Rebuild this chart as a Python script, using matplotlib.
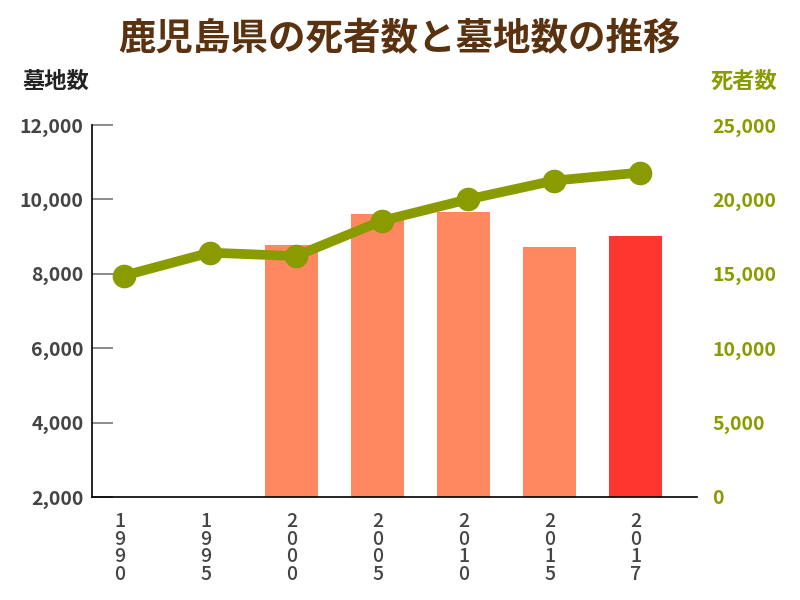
import matplotlib
matplotlib.use("Agg")
import matplotlib.pyplot as plt
import numpy as np

plt.rcParams['font.family'] = ['Noto Sans CJK JP', 'DejaVu Sans']

years = ["1990", "1995", "2000", "2005", "2010", "2015", "2017"]
graves = [np.nan, np.nan, 8770, 9600, 9670, 8730, 9020]
deaths = [14870, 16420, 16190, 18560, 20000, 21260, 21800]
bar_colors = ["#FF8860", "#FF8860", "#FF8860", "#FF8860", "#FF8860", "#FF8860", "#FF3530"]

olive = "#8A9B00"
fig = plt.figure(figsize=(8, 6), dpi=100)
ax = fig.add_axes([0.115, 0.1717, 0.756, 0.62])
x = np.arange(len(years))

ax.bar(x, np.nan_to_num(graves) - 2000, bottom=2000, width=0.61, color=bar_colors, zorder=2)
ax.set_ylim(2000, 12000)
ax.set_xlim(-0.32, 6.71)
ax.set_yticks([2000, 4000, 6000, 8000, 10000, 12000])
ax.set_yticklabels([f"{v:,}" for v in [2000, 4000, 6000, 8000, 10000, 12000]],
                   fontsize=14, fontweight='bold', color="#444444")
ax.tick_params(axis='y', direction='in', length=15, width=1.2, color="#777777", pad=6)
ax.set_xticks(x)
ax.set_xticklabels(["\n".join(list(y)) for y in years], fontsize=14, fontweight='medium',
                   color="#444444", linespacing=0.9)
ax.tick_params(axis='x', length=0, pad=11)
for s in ['top', 'right']:
    ax.spines[s].set_visible(False)
ax.spines['left'].set_color('black')
ax.spines['bottom'].set_color('black')
ax.spines['left'].set_linewidth(1.2)
ax.spines['bottom'].set_linewidth(1.2)

ax2 = ax.twinx()
ax2.plot(x + 0.05, deaths, color=olive, linewidth=7, marker='o', markersize=16, zorder=3)
ax2.set_ylim(0, 25000)
ax2.set_yticks([0, 5000, 10000, 15000, 20000, 25000])
ax2.set_yticklabels([f"{v:,}" for v in [0, 5000, 10000, 15000, 20000, 25000]],
                    fontsize=14, fontweight='bold', color=olive)
ax2.tick_params(axis='y', length=0, pad=11)
for s in ['top', 'right', 'left', 'bottom']:
    ax2.spines[s].set_visible(False)

fig.text(0.5, 0.935, "鹿児島県の死者数と墓地数の推移", ha='center', va='center',
         fontsize=27, fontweight='bold', color="#5A3210")
fig.text(0.028, 0.865, "墓地数", ha='left', va='center', fontsize=16, fontweight='bold', color="#222222")
fig.text(0.972, 0.865, "死者数", ha='right', va='center', fontsize=16, fontweight='bold', color=olive)

fig.savefig("out.png", dpi=100)
